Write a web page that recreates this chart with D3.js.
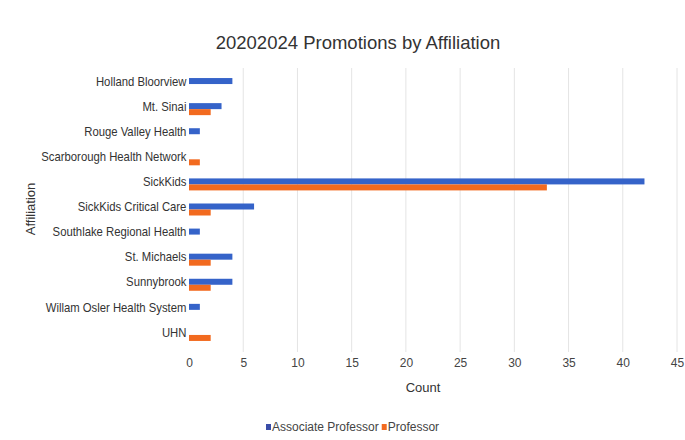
<!DOCTYPE html>
<html>
<head>
<meta charset="utf-8">
<script src="https://cdn.jsdelivr.net/npm/d3@7"></script>
<style>
  body { margin: 0; background: #fff; }
  svg { font-family: "Liberation Sans", Arial, sans-serif; }
</style>
</head>
<body>
<div id="chart"></div>
<script>
var affiliations = ["Holland Bloorview", "Mt. Sinai", "Rouge Valley Health", "Scarborough Health Network",
    "SickKids", "SickKids Critical Care", "Southlake Regional Health", "St. Michaels", "Sunnybrook",
    "Willam Osler Health System", "UHN"];
var associateProfessor = [4, 3, 1, 0, 42, 6, 1, 4, 4, 1, 0];
var professor = [0, 2, 0, 1, 33, 2, 0, 2, 2, 0, 2];
var seriesNames = ["Associate Professor", "Professor"];
var xTicks = [0, 5, 10, 15, 20, 25, 30, 35, 40, 45];

var width = 685, height = 440;
var colors = ["#3563c9", "#f26a1f"];

var svg = d3.select("#chart").append("svg")
    .attr("width", width)
    .attr("height", height);

var x = d3.scaleLinear().domain([0, 45]).range([189, 677]);
var y = d3.scalePoint().domain(affiliations).range([71.5, 347.5]).padding(0.5);
var barH = 6;

// gridlines
svg.append("g")
    .selectAll("line")
    .data(xTicks.slice(1))
    .enter().append("line")
    .attr("x1", function(d) { return x(d); })
    .attr("x2", function(d) { return x(d); })
    .attr("y1", 68)
    .attr("y2", 352)
    .attr("stroke", "#e4e4e4")
    .attr("stroke-width", 1);

// bars
var series = [associateProfessor, professor];
series.forEach(function(vals, si) {
    svg.append("g")
        .selectAll("rect")
        .data(vals)
        .enter().append("rect")
        .attr("x", x(0))
        .attr("y", function(d, i) { return y(affiliations[i]) - barH + si * barH; })
        .attr("width", function(d) { return x(d) - x(0); })
        .attr("height", barH)
        .attr("fill", colors[si]);
});

// y labels (narrowed a bit to look like the condensed original font)
var yAxis = d3.axisLeft(y).tickSize(0).tickPadding(3);
var gy = svg.append("g")
    .attr("transform", "translate(" + x(0) + ",-3) scale(0.87,1)")
    .call(yAxis);
gy.select(".domain").remove();
gy.selectAll("text")
    .attr("font-size", 13)
    .attr("fill", "#333");

// x axis
var xAxis = d3.axisBottom(x).tickValues(xTicks).tickSize(0).tickPadding(0);
var gx = svg.append("g")
    .attr("transform", "translate(0,358)")
    .call(xAxis);
gx.select(".domain").remove();
gx.selectAll("text")
    .attr("font-size", 12)
    .attr("fill", "#444");

// title
svg.append("text")
    .attr("x", 358)
    .attr("y", 49)
    .attr("text-anchor", "middle")
    .attr("font-size", 18.5)
    .attr("fill", "#333")
    .text("20202024 Promotions by Affiliation");

// axis titles
svg.append("text")
    .attr("x", 423)
    .attr("y", 392)
    .attr("text-anchor", "middle")
    .attr("font-size", 13)
    .attr("fill", "#333")
    .text("Count");

svg.append("text")
    .attr("transform", "translate(35,209) rotate(-90)")
    .attr("text-anchor", "middle")
    .attr("font-size", 13)
    .attr("fill", "#333")
    .text("Affiliation");

// legend
var legend = svg.append("g").attr("transform", "translate(266,431)");
var lx = 0;
seriesNames.forEach(function(name, i) {
    var g = legend.append("g").attr("transform", "translate(" + lx + ",0)");
    g.append("rect")
        .attr("x", 0).attr("y", -7)
        .attr("width", 5).attr("height", 6)
        .attr("fill", i === 0 ? "#3a4da8" : colors[1]);
    var t = g.append("text")
        .attr("x", 6).attr("y", 0)
        .attr("font-size", 12)
        .attr("fill", "#444")
        .text(name);
    lx += 6 + t.node().getComputedTextLength() + 3;
});
</script>
</body>
</html>
